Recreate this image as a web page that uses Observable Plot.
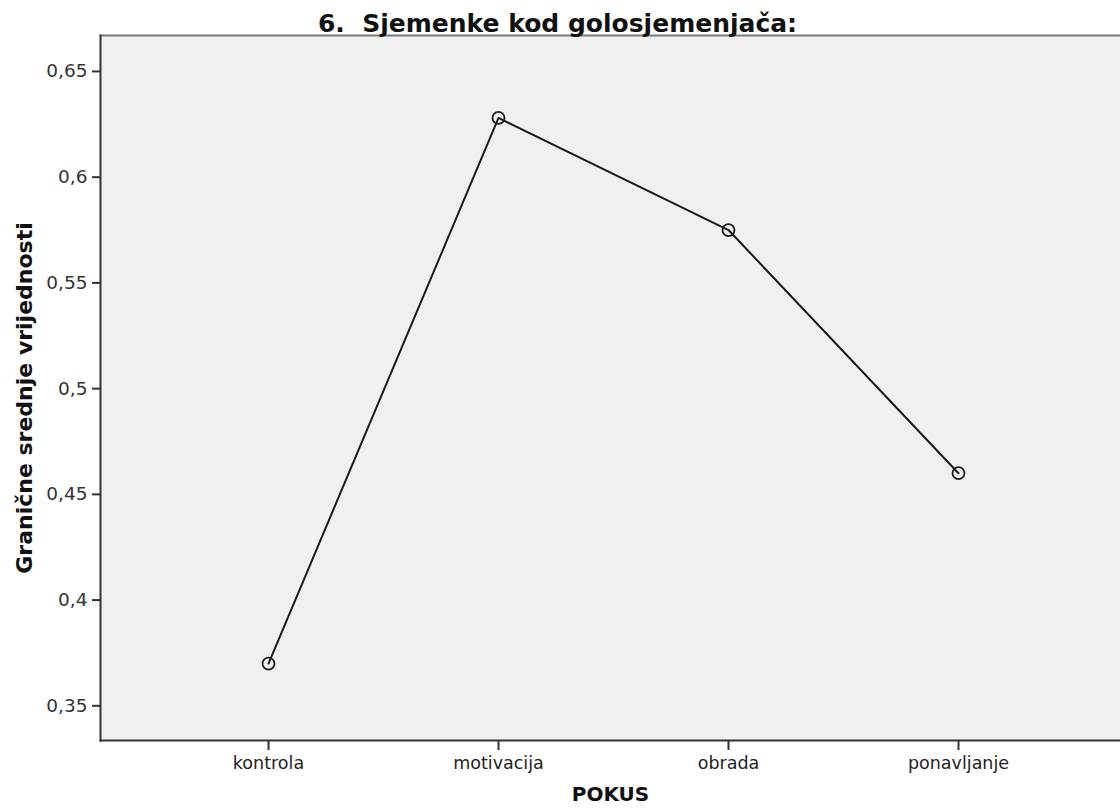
<!DOCTYPE html>
<html>
<head>
<meta charset="utf-8">
<script src="https://cdn.jsdelivr.net/npm/d3@7"></script>
<script src="https://cdn.jsdelivr.net/npm/@observablehq/plot@0.6"></script>
<style>
  html, body { margin: 0; padding: 0; background: #fff; }
  #chart svg { display: block; font-family: "DejaVu Sans", sans-serif; }
</style>
</head>
<body>
<div id="chart"></div>
<script>
const categories = ["kontrola", "motivacija", "obrada", "ponavljanje"];
const values = [0.370, 0.628, 0.575, 0.460];
const yTicks = [0.35, 0.4, 0.45, 0.5, 0.55, 0.6, 0.65];
const title = "6.  Sjemenke kod golosjemenjača:";
const xTitle = "POKUS";
const yTitle = "Granične srednje vrijednosti";

const data = categories.map((c, i) => ({category: c, value: values[i]}));
const fmt = d => String(d).replace(".", ",");

const chart = Plot.plot({
  width: 1120,
  height: 812,
  marginTop: 35,
  marginLeft: 100,
  marginRight: 0,
  marginBottom: 72,
  style: {fontFamily: "DejaVu Sans, sans-serif", background: "#fff", overflow: "visible"},
  x: {type: "point", domain: categories, range: [267, 958], padding: 0, axis: null},
  y: {domain: [0.3336, 0.667], axis: null},
  marks: [
    Plot.frame({fill: "#f0f0f0", stroke: null}),
    Plot.frame({anchor: "top", stroke: "#7a7a7a", strokeWidth: 2}),
    Plot.frame({anchor: "left", stroke: "#333", strokeWidth: 2}),
    Plot.frame({anchor: "bottom", stroke: "#333", strokeWidth: 2}),
    Plot.axisY(yTicks, {
      tickSize: 8, tickPadding: 5, tickFormat: fmt, fontSize: 18.5,
      stroke: "#333", strokeWidth: 2, fill: "#333", label: null
    }),
    Plot.axisX(categories, {
      tickSize: 10, tickPadding: 6, fontSize: 17.5,
      stroke: "#333", strokeWidth: 2, fill: "#222", label: null
    }),
    Plot.line(data, {x: "category", y: "value", stroke: "#1a1a1a", strokeWidth: 2}),
    Plot.dot(data, {x: "category", y: "value", r: 6, stroke: "#1a1a1a", strokeWidth: 1.8, fill: "none"}),
    Plot.text([title], {
      frameAnchor: "top", dx: -53, dy: -4, lineAnchor: "bottom",
      fontSize: 25, fontWeight: "bold", fill: "#111"
    }),
    Plot.text([xTitle], {
      frameAnchor: "bottom", dy: 46, lineAnchor: "top",
      fontSize: 20, fontWeight: "bold", fill: "#111"
    }),
    Plot.text([yTitle], {
      frameAnchor: "left", dx: -76, dy: 10, rotate: -90, lineAnchor: "middle",
      textAnchor: "middle",
      fontSize: 22, fontWeight: "bold", fill: "#111"
    })
  ]
});
document.getElementById("chart").appendChild(chart);
</script>
</body>
</html>
